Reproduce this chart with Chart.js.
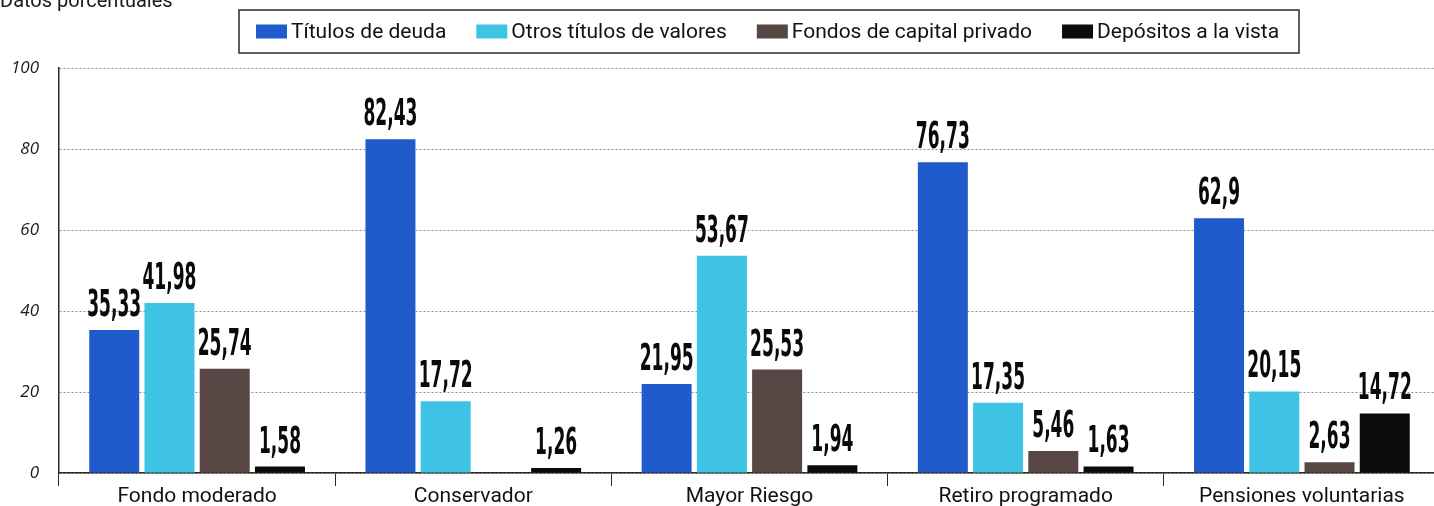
<!DOCTYPE html>
<html>
<head>
<meta charset="utf-8">
<title>Composición de fondos</title>
<script src="https://cdn.jsdelivr.net/npm/chart.js@4.4.1/dist/chart.umd.min.js"></script>
<style>
  html, body { margin: 0; padding: 0; background: #fff; overflow: hidden; }
  #wrap { width: 1440px; height: 506px; }
</style>
</head>
<body>
<div id="wrap"><canvas id="grafic" width="1440" height="506"></canvas></div>
<script>
// datos
const categorias = ["Fondo moderado", "Conservador", "Mayor Riesgo", "Retiro programado", "Pensiones voluntarias"];
const titulosDeuda = [35.33, 82.43, 21.95, 76.73, 62.9];
const otrosTitulos = [41.98, 17.72, 53.67, 17.35, 20.15];
const fondosCapital = [25.74, null, 25.53, 5.46, 2.63];
const depositosVista = [1.58, 1.26, 1.94, 1.63, 14.72];
const nombresSeries = ["Títulos de deuda", "Otros títulos de valores", "Fondos de capital privado", "Depósitos a la vista"];
const coloresSeries = ["#1f5bcb", "#3fc3e4", "#574643", "#0b0b0b"];
const ticksY = [0, 20, 40, 60, 80, 100];
const subtitulo = "Datos porcentuales";

const fuente = "Roboto, 'Noto Sans', sans-serif";

function formato(v) {
  return String(v).replace(".", ",");
}

// texto cortado arriba a la izquierda
const subtituloPlugin = {
  id: "subtitulo",
  afterDraw(chart) {
    const ctx = chart.ctx;
    ctx.save();
    ctx.font = "20px " + fuente;
    ctx.fillStyle = "#1a1a1a";
    ctx.textBaseline = "alphabetic";
    ctx.textAlign = "left";
    ctx.fillText(subtitulo, 0, 7);
    ctx.restore();
  }
};

// leyenda con recuadro
const leyendaPlugin = {
  id: "leyendaCaja",
  afterDraw(chart) {
    const ctx = chart.ctx;
    const caja = { x: 239, y: 10, w: 1060, h: 43 };
    ctx.save();
    ctx.strokeStyle = "#2a2a2a";
    ctx.lineWidth = 1.5;
    ctx.strokeRect(caja.x, caja.y, caja.w, caja.h);

    ctx.font = "21px " + fuente;
    ctx.textBaseline = "middle";
    ctx.textAlign = "left";
    const cy = caja.y + caja.h / 2;
    let x = 256;
    chart.data.datasets.forEach((ds, i) => {
      ctx.fillStyle = ds.backgroundColor;
      ctx.fillRect(x, cy - 7, 31, 14);
      x += 35;
      ctx.fillStyle = "#111";
      ctx.fillText(ds.label, x, cy + 1);
      x += ctx.measureText(ds.label).width + 30;
    });
    ctx.restore();
  }
};

// etiquetas de valor sobre las barras
const etiquetasPlugin = {
  id: "etiquetas",
  afterDatasetsDraw(chart) {
    const ctx = chart.ctx;
    ctx.save();
    ctx.font = "bold 37px 'Liberation Sans Narrow', 'DejaVu Sans Condensed', 'Liberation Sans', sans-serif";
    ctx.fillStyle = "#0a0a0a";
    ctx.textAlign = "center";
    ctx.textBaseline = "alphabetic";
    const sx = 54 / ctx.measureText("82,43").width;
    chart.data.datasets.forEach((ds, i) => {
      const meta = chart.getDatasetMeta(i);
      meta.data.forEach((bar, j) => {
        const v = ds.data[j];
        if (v === null || v === undefined) return;
        ctx.save();
        ctx.translate(bar.x, bar.y - 14);
        ctx.scale(sx, 1);
        ctx.fillText(formato(v), 0, 0);
        ctx.restore();
      });
    });
    ctx.restore();
  }
};

const ctx = document.getElementById("grafic").getContext("2d");
const grafic = new Chart(ctx, {
  type: "bar",
  data: {
    labels: categorias,
    datasets: [
      { label: nombresSeries[0], data: titulosDeuda, backgroundColor: coloresSeries[0] },
      { label: nombresSeries[1], data: otrosTitulos, backgroundColor: coloresSeries[1] },
      { label: nombresSeries[2], data: fondosCapital, backgroundColor: coloresSeries[2] },
      { label: nombresSeries[3], data: depositosVista, backgroundColor: coloresSeries[3] }
    ]
  },
  options: {
    responsive: false,
    maintainAspectRatio: false,
    animation: false,
    devicePixelRatio: 1,
    categoryPercentage: 0.8,
    barPercentage: 0.905,
    layout: { padding: { top: 68, left: 0, right: 0, bottom: 0 } },
    plugins: {
      legend: { display: false },
      tooltip: { enabled: false }
    },
    scales: {
      x: {
        grid: {
          offset: true,
          drawOnChartArea: false,
          drawTicks: true,
          tickLength: 13,
          color: "#2a2a2a",
          lineWidth: 1
        },
        border: { display: true, color: "#2a2a2a", width: 1.5 },
        ticks: {
          color: "#111",
          font: { family: fuente, size: 21 },
          padding: -2,
          maxRotation: 0,
          autoSkip: false
        },
        afterFit(scale) { scale.height = 33; }
      },
      y: {
        min: 0,
        max: 100,
        afterBuildTicks(scale) {
          scale.ticks = ticksY.map(v => ({ value: v }));
        },
        grid: {
          drawTicks: false,
          color: "#8c8c8c",
          lineWidth: 1
        },
        border: { display: true, color: "#2a2a2a", width: 1.5, dash: [2, 2] },
        ticks: {
          color: "#1a1a1a",
          font: { family: "'Open Sans', 'Noto Sans', sans-serif", size: 17, style: "italic" },
          padding: 20
        },
        afterFit(scale) { scale.width = 59; }
      }
    }
  },
  plugins: [subtituloPlugin, leyendaPlugin, etiquetasPlugin]
});
</script>
</body>
</html>
